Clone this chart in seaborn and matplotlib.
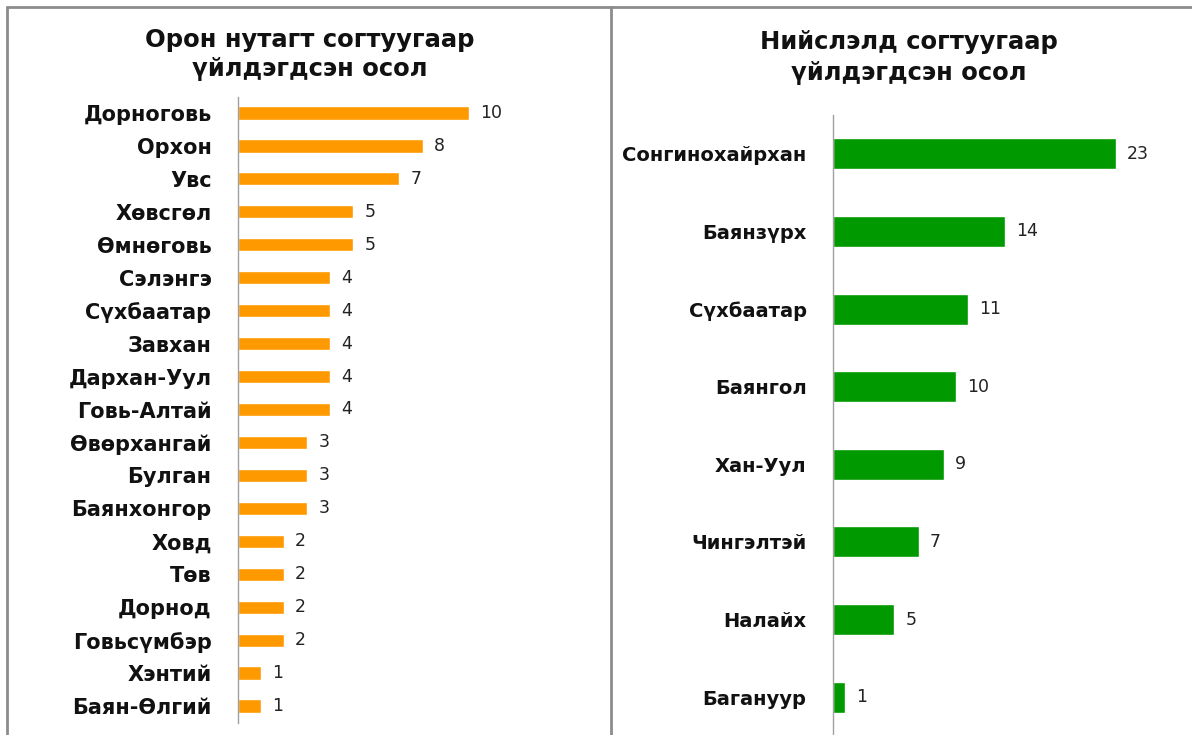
import matplotlib
matplotlib.use("Agg")
import matplotlib.pyplot as plt
import seaborn as sns
import pandas as pd
from matplotlib.lines import Line2D

# ---- data ----
left_title = ["Орон нутагт согтуугаар", "үйлдэгдсэн осол"]
left_regions = ["Дорноговь", "Орхон", "Увс", "Хөвсгөл", "Өмнөговь", "Сэлэнгэ",
                "Сүхбаатар", "Завхан", "Дархан-Уул", "Говь-Алтай", "Өвөрхангай",
                "Булган", "Баянхонгор", "Ховд", "Төв", "Дорнод", "Говьсүмбэр",
                "Хэнтий", "Баян-Өлгий"]
left_values = [10, 8, 7, 5, 5, 4, 4, 4, 4, 4, 3, 3, 3, 2, 2, 2, 2, 1, 1]

right_title = ["Нийслэлд согтуугаар", "үйлдэгдсэн осол"]
right_districts = ["Сонгинохайрхан", "Баянзүрх", "Сүхбаатар", "Баянгол",
                   "Хан-Уул", "Чингэлтэй", "Налайх", "Багануур"]
right_values = [23, 14, 11, 10, 9, 7, 5, 1]

# ---- style ----
sns.set_style("white")
plt.rcParams['font.family'] = ['DejaVu Sans']

W, H = 1192, 735
fig = plt.figure(figsize=(W / 100, H / 100), dpi=100)

def px_axes(x0, top, x1, bottom):
    return fig.add_axes([x0 / W, 1 - bottom / H, (x1 - x0) / W, (bottom - top) / H])

ax1 = px_axes(238, 96.5, 584, 722.5)
ax2 = px_axes(833, 115, 1177, 736)

df1 = pd.DataFrame({"region": left_regions, "value": left_values})
df2 = pd.DataFrame({"region": right_districts, "value": right_values})

sns.barplot(data=df1, x="value", y="region", ax=ax1, color="#FF9900",
            saturation=1, width=0.40, orient="h")
sns.barplot(data=df2, x="value", y="region", ax=ax2, color="#009900",
            saturation=1, width=0.40, orient="h")

for ax, xmax, fs in ((ax1, 15, 15), (ax2, 28, 14)):
    ax.set_xlim(0, xmax)
    ax.set_xlabel("")
    ax.set_ylabel("")
    ax.set_xticks([])
    for s in ("top", "right", "bottom"):
        ax.spines[s].set_visible(False)
    ax.spines["left"].set_color("#A0A0A0")
    ax.spines["left"].set_linewidth(1.0)
    ax.tick_params(axis="y", length=0, pad=19)
    for lab in ax.get_yticklabels():
        lab.set_fontweight("bold")
        lab.set_fontsize(fs)
        lab.set_color("#111111")
    ax.bar_label(ax.containers[0], padding=8, fontsize=12.5, color="#222222")
    ax.patch.set_alpha(0)

ax1.set_ylim(18.5, -0.5)
ax2.set_ylim(7.5, -0.5)

# titles (two lines each, baselines)
for lines, xc, baselines in ((left_title, 310, (47, 76)),
                             (right_title, 909, (49, 80))):
    for txt, yb in zip(lines, baselines):
        fig.text(xc / W, 1 - yb / H, txt, ha="center", va="baseline",
                 fontsize=17.5, fontweight="bold", color="#111111")

# panel borders
border = dict(color="#8C8C8C", linewidth=2, transform=fig.transFigure)
fig.add_artist(Line2D([7 / W, 1], [1 - 7 / H, 1 - 7 / H], **border))
fig.add_artist(Line2D([7 / W, 7 / W], [0, 1 - 7 / H], **border))
fig.add_artist(Line2D([611 / W, 611 / W], [0, 1 - 7 / H], **border))

fig.savefig("out.png", dpi=100)
